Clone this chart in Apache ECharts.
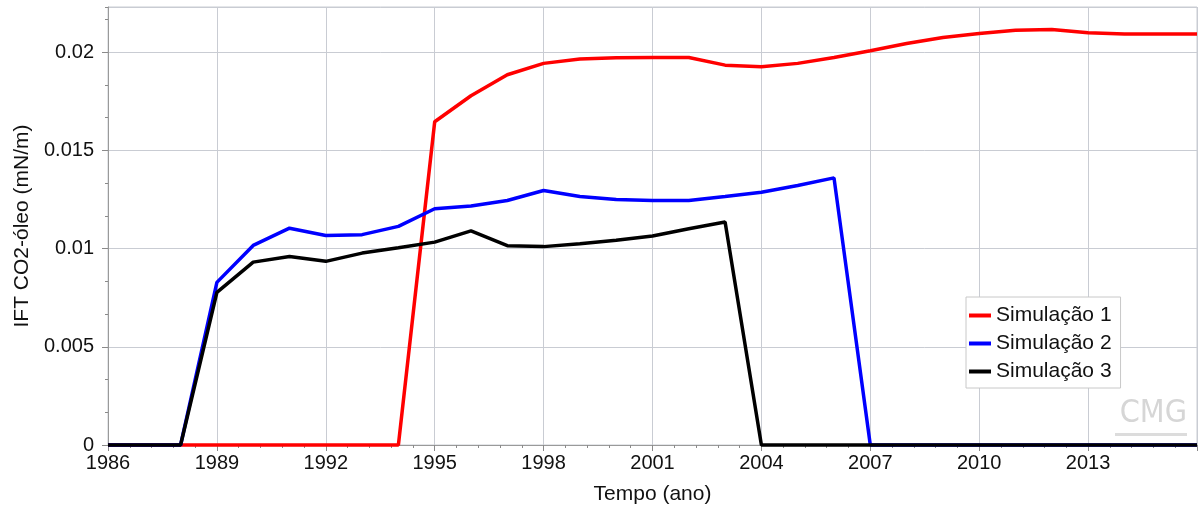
<!DOCTYPE html>
<html>
<head>
<meta charset="utf-8">
<script src="https://cdn.jsdelivr.net/npm/echarts@6/dist/echarts.min.js"></script>
<style>
html,body{margin:0;padding:0;background:#fff;}
#chart{width:1201px;height:510px;}
</style>
</head>
<body>
<div id="chart"></div>
<script>
const years = [1986,1987,1988,1989,1990,1991,1992,1993,1994,1995,1996,1997,1998,1999,2000,2001,2002,2003,2004,2005,2006,2007,2008,2009,2010,2011,2012,2013,2014,2015,2016];
const sim1 = [0,0,0,0,0,0,0,0,0,0.01646,0.01778,0.01885,0.01943,0.01965,0.01972,0.01973,0.01973,0.01934,0.01926,0.01943,0.01973,0.02007,0.02044,0.02075,0.02095,0.02112,0.02115,0.02099,0.02093,0.02093,0.02093];
const sim2 = [0,0,0,0.00828,0.01016,0.01104,0.01067,0.01071,0.01113,0.01203,0.01217,0.01245,0.01296,0.01265,0.0125,0.01245,0.01245,0.01265,0.01287,0.01321,0.0136,0,0,0,0,0,0,0,0,0,0];
const sim3 = [0,0,0,0.00777,0.00931,0.0096,0.00935,0.00977,0.01004,0.01033,0.0109,0.01015,0.0101,0.01025,0.01042,0.01064,0.01101,0.01135,0,0,0,0,0,0,0,0,0,0,0,0,0];
const seriesNames = ['Simulação 1','Simulação 2','Simulação 3'];
const seriesColors = ['#ff0000','#0000ff','#000000'];
const xTitle = 'Tempo (ano)';
const yTitle = 'IFT CO2-óleo (mN/m)';

const FONT = '"Liberation Sans", Arial, sans-serif';
const gridColor = '#c9ccd3';
const pair = (vals) => years.map((y, i) => [y, vals[i]]);
const all = [sim1, sim2, sim3];

const chart = echarts.init(document.getElementById('chart'), null, {renderer: 'canvas'});
chart.setOption({
  animation: false,
  backgroundColor: '#ffffff',
  grid: {left: 108, right: 4, top: 7, bottom: 65, show: true, borderColor: gridColor, borderWidth: 1, backgroundColor: 'transparent'},
  legend: {
    show: true,
    orient: 'vertical',
    left: 966, top: 297,
    padding: [8, 9, 6, 3],
    itemGap: 7,
    itemWidth: 22, itemHeight: 4,
    itemTextGap: 8,
    icon: 'rect',
    backgroundColor: '#ffffff',
    borderColor: '#c8c8c8', borderWidth: 1,
    textStyle: {fontFamily: FONT, fontSize: 21, color: '#111', lineHeight: 20},
    data: seriesNames
  },
  xAxis: [{
    type: 'value', min: 1986, max: 2016, interval: 3,
    name: xTitle, nameLocation: 'middle', nameGap: 39,
    nameTextStyle: {fontFamily: FONT, fontSize: 21, color: '#111'},
    axisLine: {show: true, lineStyle: {color: '#9a9a9a', width: 1}},
    axisTick: {show: true, length: 6, lineStyle: {color: '#8a8a8a'}},
    minorTick: {show: true, splitNumber: 5, length: 3, lineStyle: {color: '#8a8a8a'}},
    axisLabel: {fontFamily: FONT, fontSize: 20, color: '#111', margin: 8, showMaxLabel: false, formatter: v => String(v)},
    splitLine: {show: true, lineStyle: {color: gridColor, width: 1}}
  }],
  yAxis: [{
    type: 'value', min: 0, max: 0.0223, interval: 0.005,
    name: yTitle, nameLocation: 'middle', nameGap: 73,
    nameTextStyle: {fontFamily: FONT, fontSize: 21, color: '#111'},
    axisLine: {show: true, lineStyle: {color: '#9a9a9a', width: 1}},
    axisTick: {show: true, length: 6, lineStyle: {color: '#8a8a8a'}},
    axisLabel: {fontFamily: FONT, fontSize: 20, color: '#111', margin: 14, showMaxLabel: false},
    splitLine: {show: true, lineStyle: {color: gridColor, width: 1}}
  }, {
    type: 'value', min: 0, max: 0.0223, interval: 0.005 / 3, position: 'left',
    axisLine: {show: false}, axisLabel: {show: false}, splitLine: {show: false},
    axisTick: {show: true, length: 3, lineStyle: {color: '#8a8a8a'}}
  }],
  graphic: [{
    type: 'text', right: 14, bottom: 80, z: 0,
    style: {text: 'CMG', fontFamily: '"DejaVu Sans Condensed", "Liberation Sans Narrow", sans-serif', fontSize: 32, fill: '#d6d6d6'}
  }, {
    type: 'rect', right: 14, bottom: 74, z: 0,
    shape: {width: 72, height: 3}, style: {fill: '#dcdcdc'}
  }],
  series: all.map((vals, i) => ({
    name: seriesNames[i],
    type: 'line',
    data: pair(vals),
    showSymbol: false, symbol: 'none',
    clip: false,
    z: 2 + i,
    lineStyle: {color: seriesColors[i], width: 3.5},
    itemStyle: {color: seriesColors[i]}
  }))
});
</script>
</body>
</html>
